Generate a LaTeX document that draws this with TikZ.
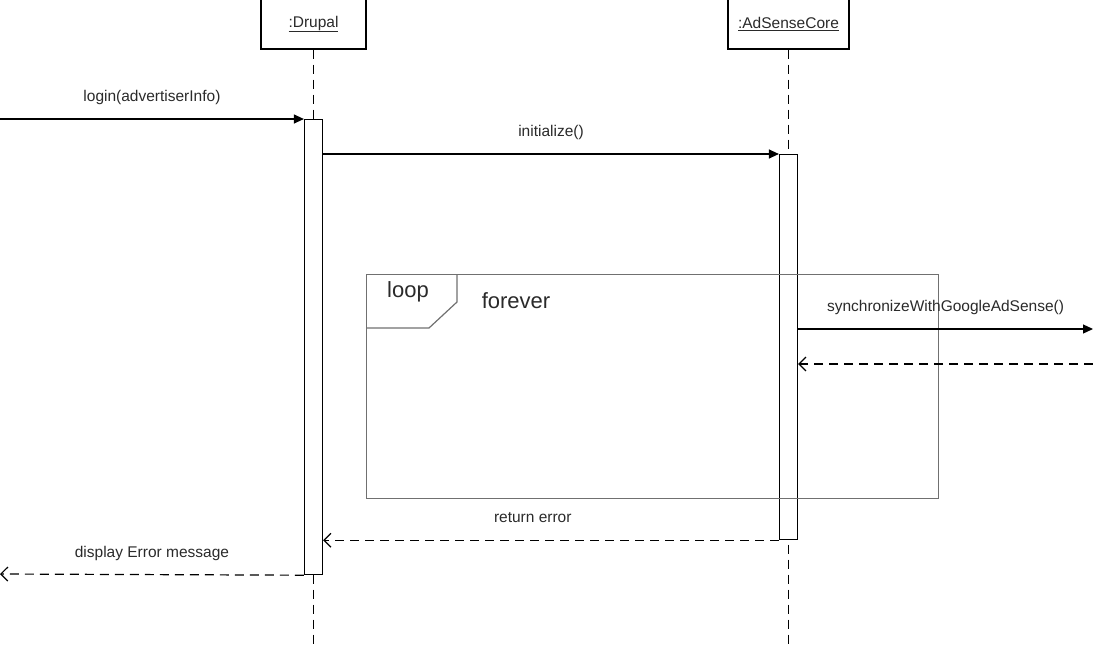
\documentclass[tikz,border=0pt]{standalone}
\usepackage{fontspec}
\setmainfont{Liberation Sans}
\usetikzlibrary{arrows.meta}
\definecolor{framegray}{HTML}{707070}
\definecolor{textgray}{HTML}{2a2a2a}
\tikzset{
  objbox/.style={draw, line width=1.2pt, minimum height=50pt, inner sep=0pt, font=\fontsize{15.5}{18}\selectfont, text=textgray},
  actbox/.style={draw, fill=white, line width=1.2pt, minimum width=18pt, inner sep=0pt, anchor=north},
  lifeline/.style={line width=1.2pt, dash pattern=on 9pt off 6pt},
  msg/.style={line width=1.2pt, -{Triangle[length=10pt, width=9pt]}},
  reply/.style={line width=1.2pt, dash pattern=on 9pt off 6pt, -{Straight Barb[length=7pt, width=14pt]}},
  msglabel/.style={above=14pt, inner sep=0pt, text height=11pt, text depth=3pt, font=\fontsize{15.5}{18}\selectfont, text=textgray},
  frameline/.style={draw=framegray, line width=1.2pt},
  framelabel/.style={anchor=base, inner sep=0pt, font=\fontsize{22}{26}\selectfont, text=textgray}
}

\begin{document}
\begin{tikzpicture}[x=1pt, y=-1pt]
  \useasboundingbox (0,0) rectangle (1093,648);

  \node[objbox, minimum width=105pt] (drupal) at (313.5,24) {\underline{:Drupal}};
  \node[objbox, minimum width=121pt] (adsense) at (788.5,24) {\underline{:AdSenseCore}};

  \draw[lifeline] (drupal.south) -- (drupal.south |- 0,650);
  \draw[lifeline] (adsense.south) -- (adsense.south |- 0,650);

  \node[actbox, minimum height=455pt] (dact) at (drupal.south |- 0,119) {};
  \node[actbox, minimum height=385pt] (aact) at (adsense.south |- 0,154) {};

  \node[frameline, minimum width=572pt, minimum height=224pt, anchor=north west, inner sep=0pt] (loopframe) at (366,274) {};
  \draw[frameline] ([yshift=-54pt]loopframe.north west) -- ++(63,0) -- ++(28,-26) -- ++(0,-28);
  \node[framelabel] (looplabel) at (408,297) {loop};
  \node[framelabel] (guard) at (516,308) {forever};

  \coordinate (loginstart) at (0,119);
  \coordinate (syncend) at (1093,329);
  \coordinate (syncback) at (1093,364);
  \coordinate (errout) at (0,574);

  \draw[msg] (loginstart) -- (dact.north west) node[msglabel, midway] {login(advertiserInfo)};
  \draw[msg] (dact.east |- aact.north) -- (aact.north west) node[msglabel, midway] {initialize()};
  \draw[msg] (aact.east |- syncend) -- (syncend) node[msglabel, midway] {synchronizeWithGoogleAdSense()};
  \draw[reply] (syncback) -- (aact.east |- syncback);
  \draw[reply] (aact.south west) -- (dact.east |- aact.south) node[msglabel, pos=0.54] {return error};
  \draw[reply] (dact.south west) -- (errout) node[msglabel, midway] {display Error message};
\end{tikzpicture}
\end{document}
